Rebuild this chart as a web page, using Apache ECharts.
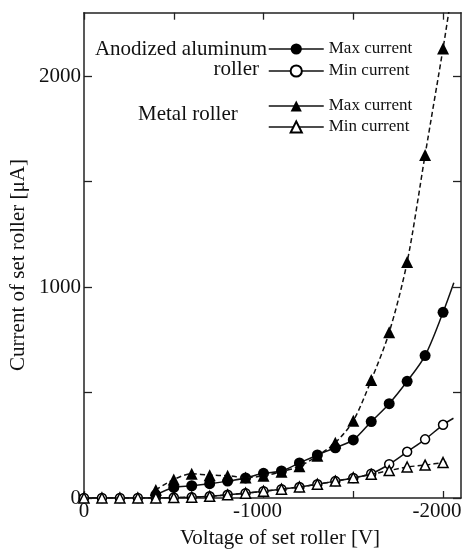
<!DOCTYPE html>
<html>
<head>
<meta charset="utf-8">
<script src="https://cdn.jsdelivr.net/npm/echarts@6/dist/echarts.min.js"></script>
<style>
html,body{margin:0;padding:0;background:#fff;}
#chart{width:464px;height:551px;}
</style>
</head>
<body>
<div id="chart"></div>
<script>
// ---- data (voltage in V, current in µA) ----
const voltsAll = [0,-100,-200,-300,-400,-500,-600,-700,-800,-900,-1000,-1100,-1200,-1300,-1400,-1500,-1600,-1700,-1800,-1900,-2000];
const voltsHigh = [-400,-500,-600,-700,-800,-900,-1000,-1100,-1200,-1300,-1400,-1500,-1600,-1700,-1800,-1900,-2000];
const anodizedMax = [15,50,58,68,80,95,117,128,166,204,238,275,362,447,553,675,880];
const anodizedMin = [0,0,0,0,0,2,4,8,15,23,32,42,52,65,80,95,115,160,219,278,347];
const metalMax = [38,88,115,108,106,97,105,125,150,200,262,366,559,785,1118,1626,2130];
const metalMin = [0,0,0,0,0,2,4,8,15,23,32,42,52,65,80,96,112,130,147,156,168];
// end points of the fitted curves (drawn without marker)
const anodizedMaxEnd = [-2060, 1020];
const anodizedMinEnd = [-2058, 378];
const metalMaxEnd = [-2035, 2320];
const metalMinEnd = [-2035, 170];
const xTickValues = [0, -500, -1000, -1500, -2000];
const xLabelValues = [0, -1000, -2000];
const yTickValues = [0, 500, 1000, 1500, 2000];
const yLabelValues = [0, 1000, 2000];

const SERIF = '"Liberation Serif","DejaVu Serif",serif';

function pts(xs, ys, end) {
  const d = xs.map((x, i) => [x, ys[i]]);
  d.push({ value: end, symbol: 'none' });
  return d;
}

const chart = echarts.init(document.getElementById('chart'), null, { renderer: 'canvas' });

const axisLine = { show: true, onZero: false, lineStyle: { color: '#222', width: 1.5 } };
function tick(vals, len) {
  return { show: true, inside: true, length: len, customValues: vals, lineStyle: { color: '#222', width: 1.3 } };
}
const labelStyle = { margin: 3, color: '#111', fontFamily: SERIF, fontSize: 21 };

function legendFor(name, label, top) {
  return {
    data: [name], left: 268, top: top, padding: 0,
    itemWidth: 55, itemHeight: 14, selectedMode: false,
    formatter: () => label,
    lineStyle: { type: 'solid', width: 1.5 },
    textStyle: { fontFamily: SERIF, fontSize: 17, color: '#111' }
  };
}

const option = {
  backgroundColor: '#fff',
  animation: false,
  grid: { left: 84, right: 3, top: 12.7, bottom: 53, containLabel: false, outerBoundsMode: 'none' },
  xAxis: [{
    type: 'value', min: -2100, max: 0, inverse: true, position: 'bottom',
    axisLine: axisLine, axisTick: tick(xTickValues, 7), splitLine: { show: false },
    axisLabel: Object.assign({
      customValues: xLabelValues,
      formatter: v => v < 0 ? '{neg|' + v + '}' : String(v),
      rich: { neg: { fontFamily: SERIF, fontSize: 21, color: '#111', padding: [0, 12, 0, 0] } }
    }, labelStyle)
  }, {
    type: 'value', min: -2100, max: 0, inverse: true, position: 'top',
    axisLine: axisLine, axisTick: tick(xTickValues, 7), splitLine: { show: false }, axisLabel: { show: false }
  }],
  yAxis: [{
    type: 'value', min: 0, max: 2300, position: 'left',
    axisLine: axisLine, axisTick: tick(yTickValues, 8), splitLine: { show: false },
    axisLabel: Object.assign({ customValues: yLabelValues, formatter: v => String(v) }, labelStyle)
  }, {
    type: 'value', min: 0, max: 2300, position: 'right',
    axisLine: axisLine, axisTick: tick(yTickValues, 8), splitLine: { show: false }, axisLabel: { show: false }
  }],
  legend: [
    legendFor('Anodized max', 'Max current', 40.5),
    legendFor('Anodized min', 'Min current', 62.5),
    legendFor('Metal max', 'Max current', 97.5),
    legendFor('Metal min', 'Min current', 118.5)
  ],
  graphic: [
    { type: 'text', x: 267, y: 49, style: { text: 'Anodized aluminum', align: 'right', verticalAlign: 'middle', font: '21px ' + SERIF, fill: '#111' } },
    { type: 'text', x: 259, y: 69, style: { text: 'roller', align: 'right', verticalAlign: 'middle', font: '21px ' + SERIF, fill: '#111' } },
    { type: 'text', x: 138, y: 114, style: { text: 'Metal roller', align: 'left', verticalAlign: 'middle', font: '21px ' + SERIF, fill: '#111' } },
    { type: 'text', x: 280, y: 538, style: { text: 'Voltage of set roller [V]', align: 'center', verticalAlign: 'middle', font: '21px ' + SERIF, fill: '#111' } },
    { type: 'text', x: 18, y: 265, rotation: Math.PI / 2, style: { text: 'Current of set roller [μA]', align: 'center', verticalAlign: 'middle', font: '21px ' + SERIF, fill: '#111' } }
  ],
  series: [
    {
      name: 'Anodized max', type: 'line', smooth: 0.3,
      data: pts(voltsHigh, anodizedMax, anodizedMaxEnd),
      symbol: 'circle', symbolSize: 11,
      itemStyle: { color: '#000' }, lineStyle: { color: '#111', width: 1.5, type: 'solid' }, z: 3
    },
    {
      name: 'Anodized min', type: 'line', smooth: 0.3,
      data: pts(voltsAll, anodizedMin, anodizedMinEnd),
      symbol: 'circle', symbolSize: 9,
      itemStyle: { color: '#fff', borderColor: '#000', borderWidth: 1.5 },
      lineStyle: { color: '#111', width: 1.5, type: 'solid' }, z: 2
    },
    {
      name: 'Metal max', type: 'line', smooth: 0.3,
      data: pts(voltsHigh, metalMax, metalMaxEnd),
      symbol: 'triangle', symbolSize: 12,
      itemStyle: { color: '#000' }, lineStyle: { color: '#111', width: 1.5, type: [5, 3] }, z: 4
    },
    {
      name: 'Metal min', type: 'line', smooth: 0.3,
      data: pts(voltsAll, metalMin, metalMinEnd),
      symbol: 'triangle', symbolSize: 10,
      itemStyle: { color: '#fff', borderColor: '#000', borderWidth: 1.5 },
      lineStyle: { color: '#111', width: 1.5, type: [5, 3] }, z: 5
    }
  ]
};
chart.setOption(option);
</script>
</body>
</html>
